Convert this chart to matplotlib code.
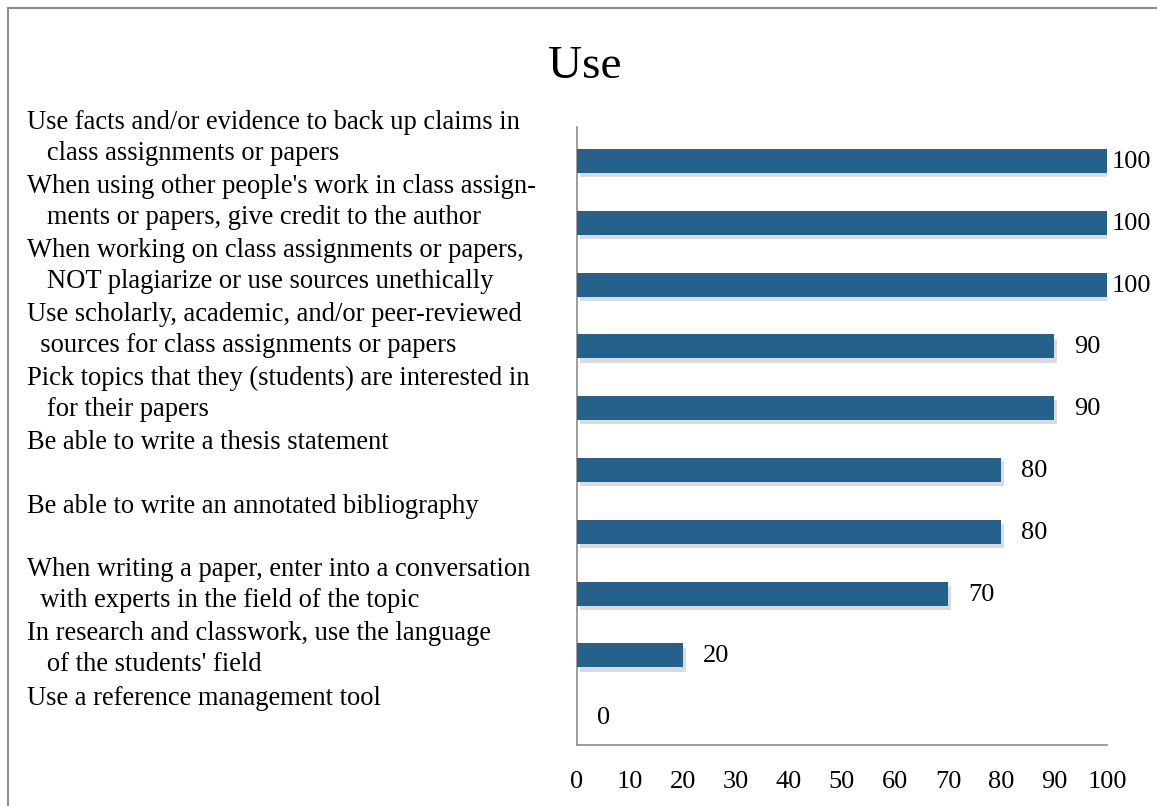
import matplotlib
matplotlib.use("Agg")
import matplotlib.pyplot as plt
import matplotlib.patheffects as pe
from matplotlib.patches import Rectangle

plt.rcParams['font.family'] = ['Liberation Serif', 'DejaVu Serif']

title = "Use"
categories = [
    "Use facts and/or evidence to back up claims in\n   class assignments or papers",
    "When using other people's work in class assign-\n   ments or papers, give credit to the author",
    "When working on class assignments or papers,\n   NOT plagiarize or use sources unethically",
    "Use scholarly, academic, and/or peer-reviewed\n  sources for class assignments or papers",
    "Pick topics that they (students) are interested in\n   for their papers",
    "Be able to write a thesis statement",
    "Be able to write an annotated bibliography",
    "When writing a paper, enter into a conversation\n  with experts in the field of the topic",
    "In research and classwork, use the language\n   of the students' field",
    "Use a reference management tool",
]
values = [100, 100, 100, 90, 90, 80, 80, 70, 20, 0]
xticks = [0, 10, 20, 30, 40, 50, 60, 70, 80, 90, 100]

W, H = 1157, 806
fig = plt.figure(figsize=(W / 100, H / 100), dpi=100)

# label column axes (its own category spacing, like the original's label block)
lab_first = 122.0   # px, first-line centre of first label
lab_step = 63.9     # px between labels
ax_lab = fig.add_axes([0, 0, 1, 1])
ax_lab.set_xlim(0, 1)
ax_lab.set_ylim((H - lab_first) / lab_step, -lab_first / lab_step)
ax_lab.axis('off')

ax = fig.add_axes([577 / W, 1 - 745 / H, (1107 - 577) / W, (745 - 127) / H])

bar_color = "#26618C"
pos = list(range(len(categories)))
bars = ax.barh(pos, values, height=0.39, color=bar_color, zorder=3)
for b in bars:
    b.set_path_effects([pe.SimplePatchShadow(offset=(2, -3), shadow_rgbFace="#999999", alpha=0.35), pe.Normal()])

ax.set_xlim(0, 100)
ax.set_ylim(9.45, -0.55)
ax.set_xticks(xticks)
ax.set_xticklabels([str(t) for t in xticks], fontsize=19)
ax.set_yticks([])
ax.tick_params(axis='x', length=0, pad=19)
for s in ['top', 'right']:
    ax.spines[s].set_visible(False)
for s in ['left', 'bottom']:
    ax.spines[s].set_color("#8c8c8c")
    ax.spines[s].set_linewidth(1.2)

# value labels
px_per_unit = (1107 - 577) / 100
for p, v in zip(pos, values):
    x = min(v + 20 / px_per_unit, 100 + 5 / px_per_unit)
    ax.text(x, p + 1 / 61.8, str(v), va='center', ha='left', fontsize=19, color='black', clip_on=False)

# category labels (left, left-aligned)
for p, c in zip(pos, categories):
    nlines = c.count("\n") + 1
    off_px = 1 if nlines == 1 else 16
    ax_lab.text(27 / W, p + off_px / lab_step, c, ha='left', va='center',
                fontsize=19.1, linespacing=1.31, clip_on=False)

fig.text(585 / W, 1 - 67 / H, title, ha='center', va='center', fontsize=34)

fig.patches.append(Rectangle((8 / W, -0.1), 1.2, 1 - 8 / H + 0.1, transform=fig.transFigure,
                             fill=False, edgecolor="#8c8c8c", linewidth=1.5, figure=fig))

fig.savefig("out.png", dpi=100)
